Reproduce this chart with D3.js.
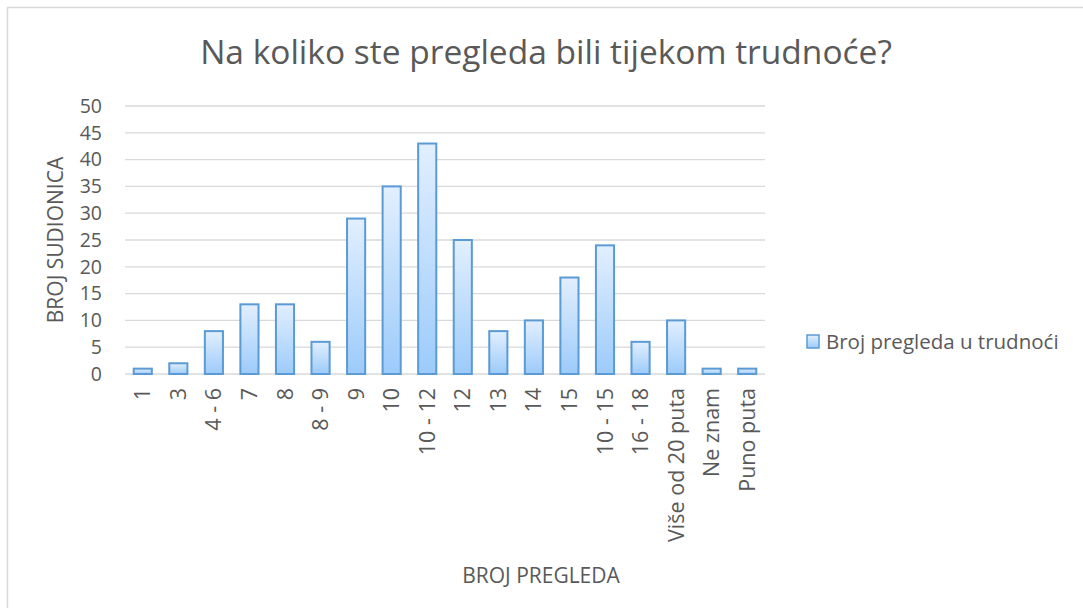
<!DOCTYPE html>
<html>
<head>
<meta charset="utf-8">
<script src="https://cdn.jsdelivr.net/npm/d3@7.9.0/dist/d3.min.js"></script>
<style>
  body { margin: 0; background: #fff; }
  svg text { font-family: "Open Sans", "Noto Sans", sans-serif; fill: #595959; }
</style>
</head>
<body>
<svg id="chart" width="1083" height="608"></svg>
<script>
// data
const categories = ['1', '3', '4 - 6', '7', '8', '8 - 9', '9', '10', '10 - 12', '12', '13', '14', '15', '10 - 15', '16 - 18', 'Više od 20 puta', 'Ne znam', 'Puno puta'];
const values = [1, 2, 8, 13, 13, 6, 29, 35, 43, 25, 8, 10, 18, 24, 6, 10, 1, 1];
const yTicks = [0, 5, 10, 15, 20, 25, 30, 35, 40, 45, 50];
const seriesName = 'Broj pregleda u trudnoći';

const svg = d3.select('#chart');
const margin = { left: 125, right: 318, top: 106, bottom: 234 };
const W = 1083, H = 608;

// outer border (right and bottom edges run off the picture)
svg.append('rect')
    .attr('x', 7.5).attr('y', 7.5)
    .attr('width', 1090).attr('height', 610)
    .attr('fill', '#fff').attr('stroke', '#d9d9d9').attr('stroke-width', 1.5);

const defs = svg.append('defs');
const grad = defs.append('linearGradient')
    .attr('id', 'barGrad').attr('x1', 0).attr('y1', 0).attr('x2', 0).attr('y2', 1);
grad.append('stop').attr('offset', '0%').attr('stop-color', '#e2efff');
grad.append('stop').attr('offset', '100%').attr('stop-color', '#9ccbfa');

let x = d3.scaleBand()
    .domain(categories)
    .range([margin.left, W - margin.right])
    .paddingInner(0.49)
    .paddingOuter(0.245);

let y = d3.scaleLinear().domain([0, 50]).range([H - margin.bottom, margin.top]);

// gridlines
svg.append('g')
    .selectAll('line')
    .data(yTicks)
    .join('line')
    .attr('x1', margin.left).attr('x2', W - margin.right)
    .attr('y1', d => y(d)).attr('y2', d => y(d))
    .attr('stroke', '#d9d9d9').attr('stroke-width', 1.3);

// y tick labels
svg.append('g')
    .selectAll('text')
    .data(yTicks)
    .join('text')
    .attr('x', 102).attr('y', d => y(d))
    .attr('dy', '0.35em')
    .attr('text-anchor', 'end')
    .style('font-size', '19.5px')
    .text(d => d);

// bars
svg.append('g')
    .selectAll('rect')
    .data(values)
    .join('rect')
    .attr('x', (d, i) => x(categories[i]))
    .attr('y', d => y(d))
    .attr('width', x.bandwidth())
    .attr('height', d => y(0) - y(d))
    .attr('fill', 'url(#barGrad)')
    .attr('stroke', '#5b9bd5')
    .attr('stroke-width', 2);

// x labels, rotated
svg.append('g')
    .selectAll('text')
    .data(categories)
    .join('text')
    .attr('transform', d => `translate(${x(d) + x.bandwidth() / 2},388) rotate(-90)`)
    .attr('dy', '0.35em')
    .attr('text-anchor', 'end')
    .style('font-size', '21.5px')
    .text(d => d);

// title
svg.append('text')
    .attr('x', 546).attr('y', 52)
    .attr('dy', '0.35em')
    .attr('text-anchor', 'middle')
    .style('font-size', '33.5px')
    .text('Na koliko ste pregleda bili tijekom trudnoće?');

// axis titles
svg.append('text')
    .attr('transform', 'translate(56,240) rotate(-90)')
    .attr('dy', '0.35em')
    .attr('text-anchor', 'middle')
    .style('font-size', '21px')
    .text('BROJ SUDIONICA');

svg.append('text')
    .attr('x', 541).attr('y', 576)
    .attr('dy', '0.35em')
    .attr('text-anchor', 'middle')
    .style('font-size', '21px')
    .text('BROJ PREGLEDA');

// legend
const legend = svg.append('g').attr('transform', 'translate(807,335)');
legend.append('rect')
    .attr('x', 0).attr('y', 0).attr('width', 12).attr('height', 13)
    .attr('fill', 'url(#barGrad)').attr('stroke', '#5b9bd5').attr('stroke-width', 1.5);
legend.append('text')
    .attr('x', 19).attr('y', 7)
    .attr('dy', '0.35em')
    .style('font-size', '20.5px')
    .text(seriesName);
</script>
</body>
</html>
